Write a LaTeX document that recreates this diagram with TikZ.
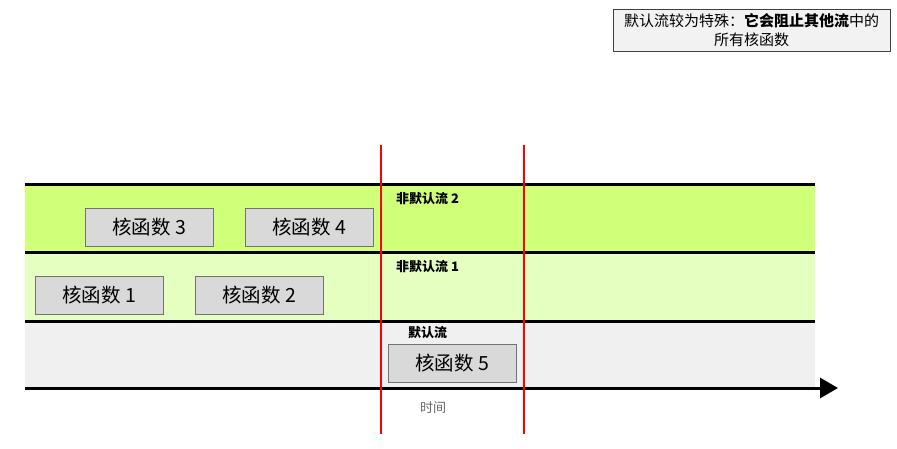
\documentclass[tikz,border=0pt]{standalone}
\usepackage{fontspec}
\setmainfont{Noto Sans CJK SC}
\usepackage{tikz}
\usetikzlibrary{positioning}
\usetikzlibrary{arrows.meta,shapes}
\definecolor{nondefaulttwo}{HTML}{D0FF7A}
\definecolor{nondefaultone}{HTML}{E4FFC0}
\definecolor{defaultgray}{HTML}{F0F0F0}
\definecolor{kernelgray}{HTML}{D9D9D9}
\tikzstyle{kernel}=[rectangle,fill=kernelgray,draw=black!55,minimum width=128pt,minimum height=38pt,inner sep=0pt,font=\fontsize{19.5}{21}\selectfont]
\tikzstyle{streamlabel}=[anchor=west,inner sep=0pt,font=\bfseries\fontsize{13}{14}\selectfont]
\tikzstyle{laneline} = [draw,line width=3pt]
\tikzstyle{timeline} = [draw,line width=3pt,-{Triangle[length=18pt,width=20pt]}]
\tikzstyle{barrier} = [draw,red,line width=1.2pt]
\tikzstyle{note} = [rectangle,draw=black!75,fill=black!5,minimum width=277pt,minimum height=42pt,inner sep=0pt,align=center,font=\fontsize{15}{19}\selectfont]

\begin{document}
\begin{tikzpicture}[x=1pt,y=-1pt]
\useasboundingbox (0,0) rectangle (897,449);

%lanes
    \fill[nondefaulttwo] (25,185) rectangle (815,253);
    \fill[nondefaultone] (25,253) rectangle (815,321);
    \fill[defaultgray] (25,321) rectangle (815,388);

    \foreach \y in {185, 253, 321}
        \path[laneline] (25,\y) -- (815,\y);

    % time axis
    \coordinate (t0) at (25,388);
    \coordinate (t1) at (838,388);
    \path[timeline] (t0) -- (t1);
    \node[text=black!60, font=\fontsize{13}{14}\selectfont] (time) at (433,408) {时间};

    % synchronisation points
    \foreach \x/\name in {381/a, 524/b} {
        \coordinate (\name top) at (\x,145);
        \coordinate (\name bot) at (\x,434);
        \path[barrier] (\name top) -- (\name bot);
    }

    % stream names
    \node[streamlabel] (s2) at (396,199) {非默认流 2};
    \node[streamlabel] (s1) at (396,267) {非默认流 1};
    \node[streamlabel] (s0) at (408,333) {默认流};

    % kernels
    \foreach \pos/\name/\label in {{(149,227)/K3/核函数 3}, {(309,227)/K4/核函数 4}, {(99,295)/K1/核函数 1}, {(259,295)/K2/核函数 2}, {(452,363)/K5/核函数 5}}
        \node[kernel] (\name) at \pos {\label};

    % note
    \node[note] (remark) at (751.5,30) {默认流较为特殊：\textbf{它会阻止其他流}中的\\所有核函数};

\end{tikzpicture}
\end{document}
